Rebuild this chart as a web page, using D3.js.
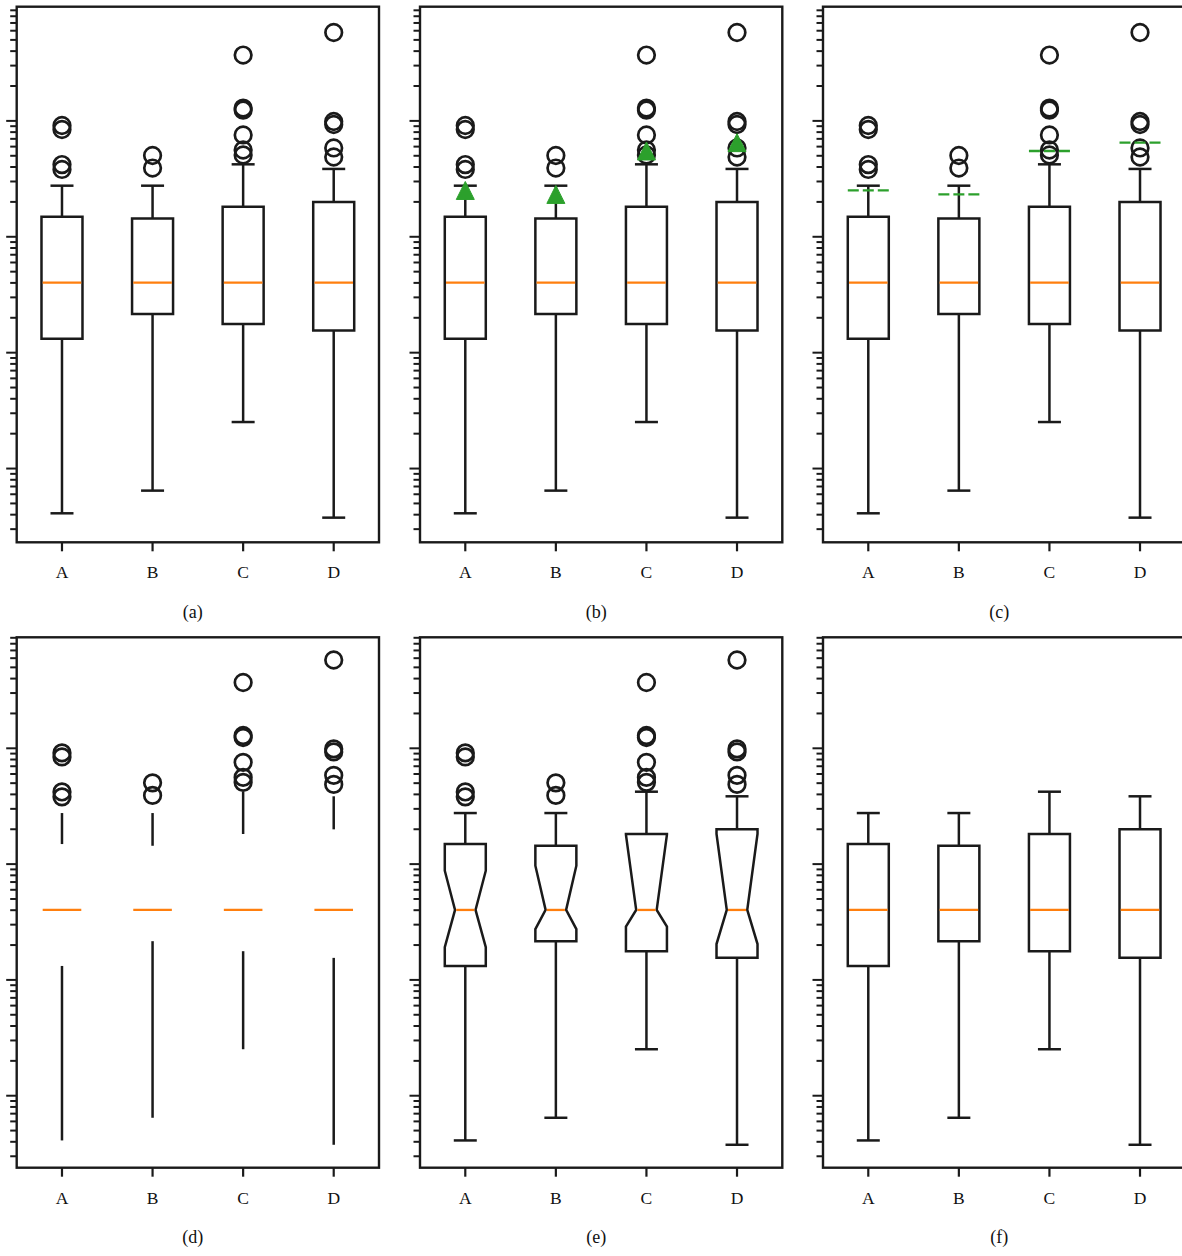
<!DOCTYPE html>
<meta charset="utf-8">
<head>
  <style>
    body {margin: 0; background-color: #ffffff;}
  </style>
  <title></title>
</head>
<body>
<script src="https://d3js.org/d3.v7.min.js"></script>
<script>

// values (log axis, no tick labels)
const categories  = ["A", "B", "C", "D"];
const whiskerLow  = [0.0411, 0.0645, 0.252, 0.0377];
const quartile1   = [1.32, 2.16, 1.77, 1.55];
const medians     = [4.02, 4.02, 4.02, 4.02];
const quartile3   = [14.9, 14.4, 18.2, 19.96];
const whiskerHigh = [27.6, 27.6, 42.2, 38.5];
const means       = [25.1, 23.2, 55.0, 64.9];
const notchLow    = [1.915, 2.75, 2.88, 2.04];
const notchHigh   = [8.77, 9.69, 18.0, 18.2];
const fliers = [
  [91.3, 84.3, 42.0, 38.1],
  [50.3, 39.2],
  [370, 129, 124, 75.6, 56.1, 50.8],
  [579, 98.8, 93.1, 58.4, 48.8]
];
const panelLabels = ["(a)", "(b)", "(c)", "(d)", "(e)", "(f)"];
const yLimits = [[0.0231, 967], [0.0239, 909]];   // top row, bottom row

// what each panel shows
const panelOptions = [
  {box: true,  caps: true,  fliers: true,  means: null,     notch: false},
  {box: true,  caps: true,  fliers: true,  means: "marker", notch: false},
  {box: true,  caps: true,  fliers: true,  means: "line",   notch: false},
  {box: false, caps: false, fliers: true,  means: null,     notch: false},
  {box: true,  caps: true,  fliers: true,  means: null,     notch: true},
  {box: true,  caps: true,  fliers: false, means: null,     notch: false}
];

const W = 1182, H = 1256;
const colLeft = [16.7, 420, 823], panelW = 362.3;
const rowTop = [6.7, 637.3], rowBottom = [542.3, 1167.7];
const ink = "#1a1a1a", orange = "#ff7f0e", green = "#2ca02c";
const boxHalf = 20.5, capHalf = 11.5;

var svg = d3.select("body")
  .append("svg")
    .attr("width", W)
    .attr("height", H);

function drawPanel(p) {
  const row = Math.floor(p / 3), col = p % 3;
  const opt = panelOptions[p];
  const left = colLeft[col], right = left + panelW;
  const top = rowTop[row], bottom = rowBottom[row];

  var x = d3.scaleBand().domain(categories).range([left, right]).paddingInner(0);
  var y = d3.scaleLog().domain(yLimits[row]).range([bottom, top]);
  const cx = (c) => x(c) + x.bandwidth() / 2;

  var g = svg.append("g");

  // y ticks (log, major + minor, no labels)
  y.ticks().forEach(function(t) {
    const lg = Math.log10(t);
    const major = Math.abs(lg - Math.round(lg)) < 1e-6;
    g.append("line")
      .attr("x1", left - (major ? 10.5 : 6.5)).attr("x2", left)
      .attr("y1", y(t)).attr("y2", y(t))
      .style("stroke", ink).style("stroke-width", 2);
  });

  // x ticks + labels
  categories.forEach(function(c) {
    g.append("line")
      .attr("x1", cx(c)).attr("x2", cx(c))
      .attr("y1", bottom).attr("y2", bottom + 9)
      .style("stroke", ink).style("stroke-width", 2.2);
    g.append("text")
      .attr("x", cx(c)).attr("y", bottom + 36)
      .attr("text-anchor", "middle")
      .style("font-family", "Liberation Serif, DejaVu Serif, serif")
      .style("font-size", "17.5px")
      .style("fill", "#111")
      .text(c);
  });

  categories.forEach(function(c, i) {
    const xc = cx(c);

    // whiskers
    [[quartile1[i], whiskerLow[i]], [quartile3[i], whiskerHigh[i]]].forEach(function(w) {
      g.append("line")
        .attr("x1", xc).attr("x2", xc)
        .attr("y1", y(w[0])).attr("y2", y(w[1]))
        .style("stroke", ink).style("stroke-width", 2.5);
    });

    if (opt.caps) {
      [whiskerLow[i], whiskerHigh[i]].forEach(function(v) {
        g.append("line")
          .attr("x1", xc - capHalf).attr("x2", xc + capHalf)
          .attr("y1", y(v)).attr("y2", y(v))
          .style("stroke", ink).style("stroke-width", 2.5);
      });
    }

    let medHalf = boxHalf;
    if (opt.box) {
      let pts;
      if (opt.notch) {
        medHalf = boxHalf / 2;
        pts = [
          [xc - boxHalf, y(quartile1[i])], [xc - boxHalf, y(notchLow[i])],
          [xc - medHalf, y(medians[i])], [xc - boxHalf, y(notchHigh[i])],
          [xc - boxHalf, y(quartile3[i])], [xc + boxHalf, y(quartile3[i])],
          [xc + boxHalf, y(notchHigh[i])], [xc + medHalf, y(medians[i])],
          [xc + boxHalf, y(notchLow[i])], [xc + boxHalf, y(quartile1[i])]
        ];
      } else {
        pts = [
          [xc - boxHalf, y(quartile1[i])], [xc - boxHalf, y(quartile3[i])],
          [xc + boxHalf, y(quartile3[i])], [xc + boxHalf, y(quartile1[i])]
        ];
      }
      g.append("path")
        .attr("d", d3.line()(pts) + "Z")
        .style("fill", "#fff")
        .style("stroke", ink).style("stroke-width", 2.5)
        .style("stroke-linejoin", "miter");
    }

    // median
    g.append("line")
      .attr("x1", xc - medHalf + 1.2).attr("x2", xc + medHalf - 1.2)
      .attr("y1", y(medians[i])).attr("y2", y(medians[i]))
      .style("stroke", orange).style("stroke-width", 2.3);

    if (opt.fliers) {
      g.selectAll(null)
        .data(fliers[i])
        .enter()
        .append("circle")
          .attr("cx", xc)
          .attr("cy", (d) => y(d))
          .attr("r", 8.3)
          .style("fill", "none")
          .style("stroke", ink).style("stroke-width", 2.7);
    }

    if (opt.means === "marker") {
      const my = y(means[i]);
      g.append("path")
        .attr("d", "M" + xc + "," + (my - 9) + "L" + (xc + 9) + "," + (my + 9) + "L" + (xc - 9) + "," + (my + 9) + "Z")
        .style("fill", green).style("stroke", green).style("stroke-width", 1);
    } else if (opt.means === "line") {
      g.append("line")
        .attr("x1", xc - boxHalf).attr("x2", xc + boxHalf)
        .attr("y1", y(means[i])).attr("y2", y(means[i]))
        .style("stroke", green).style("stroke-width", 2.3)
        .style("stroke-dasharray", "11,4");
    }
  });

  // frame
  g.append("rect")
    .attr("x", left).attr("y", top)
    .attr("width", panelW).attr("height", bottom - top)
    .style("fill", "none")
    .style("stroke", ink).style("stroke-width", 2.4);

  svg.append("text")
    .attr("x", left + panelW / 2 - 5).attr("y", bottom + 75.5)
    .attr("text-anchor", "middle")
    .style("font-family", "Liberation Serif, DejaVu Serif, serif")
    .style("font-size", "18px")
    .style("fill", "#111")
    .text(panelLabels[p]);
}

for (let p = 0; p < 6; p++) drawPanel(p);

</script>
</body>
</html>
